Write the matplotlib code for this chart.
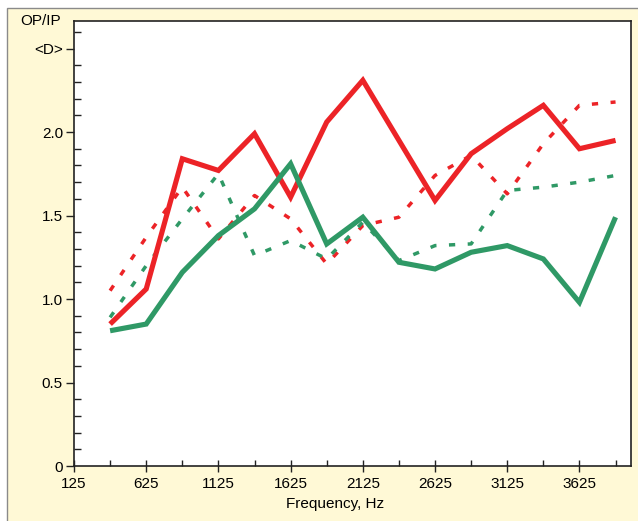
import matplotlib
matplotlib.use("Agg")
import matplotlib.pyplot as plt
from matplotlib.patches import Rectangle
from matplotlib.ticker import FixedLocator, MultipleLocator

plt.rcParams["font.family"] = ["Liberation Sans", "DejaVu Sans"]

# data
freq = [375, 625, 875, 1125, 1375, 1625, 1875, 2125, 2375, 2625, 2875, 3125, 3375, 3625, 3875]
red_solid = [0.85, 1.06, 1.84, 1.77, 1.99, 1.61, 2.06, 2.31, 1.95, 1.59, 1.87, 2.02, 2.16, 1.90, 1.95]
green_solid = [0.81, 0.85, 1.16, 1.38, 1.54, 1.81, 1.33, 1.49, 1.22, 1.18, 1.28, 1.32, 1.24, 0.98, 1.49]
red_dash = [1.05, 1.37, 1.67, 1.36, 1.62, 1.48, 1.21, 1.44, 1.49, 1.74, 1.86, 1.63, 1.93, 2.16, 2.18]
green_dash = [0.89, 1.20, 1.48, 1.75, 1.26, 1.35, 1.24, 1.46, 1.23, 1.32, 1.33, 1.65, 1.67, 1.70, 1.74]

xticks = [125, 625, 1125, 1625, 2125, 2625, 3125, 3625]
yticks = [0, 0.5, 1.0, 1.5, 2.0, 2.5]
ylabels = ["0", "0.5", "1.0", "1.5", "2.0", "<D>"]

red = "#ec2327"
green = "#2f9966"
cream = "#fff9d6"

fig = plt.figure(figsize=(6.38, 5.21), dpi=100)
fig.patch.set_facecolor("white")
bg = Rectangle((7 / 638, -0.05), 1.1, (521 - 8) / 521 + 0.05,
               transform=fig.transFigure, facecolor=cream,
               edgecolor="#8a8a8a", linewidth=1.0, zorder=-10)
fig.add_artist(bg)

ax = fig.add_axes([74 / 638, 55 / 521, 557 / 638, 445 / 521])
ax.set_zorder(1)
ax.set_facecolor("white")

dash = (0, (1.8, 3.6))
ax.plot(freq, red_dash, color=red, lw=2.5, linestyle=dash, dash_capstyle="butt")
ax.plot(freq, green_dash, color=green, lw=2.5, linestyle=dash, dash_capstyle="butt")
ax.plot(freq, red_solid, color=red, lw=3.7, solid_joinstyle="miter", solid_capstyle="butt")
ax.plot(freq, green_solid, color=green, lw=3.7, solid_joinstyle="miter", solid_capstyle="butt")

ax.set_xlim(125, 3982)
ax.set_ylim(0, 2.665)

ax.xaxis.set_major_locator(FixedLocator(xticks))
ax.set_xticklabels([str(t) for t in xticks])
ax.xaxis.set_minor_locator(FixedLocator([t + 250 for t in xticks]))
ax.yaxis.set_major_locator(FixedLocator(yticks))
ax.set_yticklabels(ylabels)
ax.yaxis.set_minor_locator(MultipleLocator(0.1))

ax.tick_params(axis="x", which="major", direction="inout", length=8, width=1,
               color="#222222", labelsize=11, pad=4)
ax.tick_params(axis="x", which="minor", direction="in", length=4, width=1, color="#222222")
ax.tick_params(axis="y", which="major", direction="out", length=6, width=1,
               color="#222222", labelsize=11, pad=2)
ax.tick_params(axis="y", which="minor", direction="in", length=5, width=1, color="#222222")

for s in ax.spines.values():
    s.set_color("#222222")
    s.set_linewidth(1.2)

fig.text(41 / 638, 1 - 21 / 521, "OP/IP", ha="center", va="center", fontsize=11)
fig.text(335 / 638, 17 / 521, "Frequency, Hz", ha="center", va="center", fontsize=11)

fig.savefig("out.png", dpi=100)
plt.close(fig)
